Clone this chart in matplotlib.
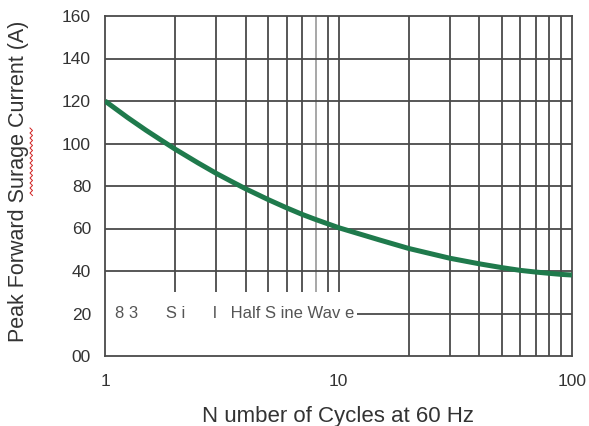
import numpy as np
import matplotlib
matplotlib.use("Agg")
import matplotlib.pyplot as plt
from matplotlib.lines import Line2D

# Curve values
cycles = [1, 1.25, 1.5, 1.75, 2, 2.5, 3, 3.5, 4, 5, 6, 7, 8, 9, 10,
          15, 20, 30, 40, 50, 60, 70, 80, 90, 100]
current = [120, 112.2, 106.2, 101.4, 97.3, 90.9, 85.9, 82.0, 78.7, 73.6, 69.7,
           66.6, 64.2, 62.2, 60.4, 54.6, 50.6, 46.0, 43.4, 41.6, 40.3, 39.5,
           38.9, 38.4, 38.1]

y_ticks = [0, 20, 40, 60, 80, 100, 120, 140, 160]
y_tick_labels = ["00", "20", "40", "60", "80", "100", "120", "140", "160"]
x_ticks = [1, 10, 100]
x_tick_labels = ["1", "10", "100"]
grid_decade1 = [2, 3, 4, 5, 6, 7, 9, 10]
grid_faint = [8]
grid_decade2 = [20, 30, 40, 50, 60, 70, 80, 90]
grid_rows = [40, 60, 80, 100, 120, 140]

GRID = "#4a4a4a"
GREEN = "#1f7a4c"
plt.rcParams["font.family"] = ["Liberation Sans", "DejaVu Sans"]

fig = plt.figure(figsize=(5.89, 4.26), dpi=100)
ax = fig.add_axes([105 / 589, 1 - 356 / 426, 467 / 589, 340 / 426])
ax.set_xscale("log")
ax.set_xlim(1, 100)
ax.set_ylim(0, 160)

# grid, the lower-left corner is kept clear for the note
ax.vlines(grid_decade1, 30, 160, color=GRID, lw=1.3, zorder=1)
ax.vlines(grid_faint, 30, 160, color="#a0a0a0", lw=1.3, zorder=1)
ax.vlines(grid_decade2, 0, 160, color=GRID, lw=1.3, zorder=1)
ax.hlines(grid_rows, 1, 100, color=GRID, lw=1.3, zorder=1)
ax.hlines(20, 12, 100, color=GRID, lw=1.3, zorder=1)

ax.text(1.1, 20, "8 3      S i      l   Half S ine Wav e", fontsize=12,
        color="#555555", va="center", ha="left", zorder=2)

ax.plot(cycles, current, color=GREEN, lw=3.6, solid_capstyle="butt",
        solid_joinstyle="round", zorder=3)

for s in ax.spines.values():
    s.set_color(GRID)
    s.set_linewidth(1.3)

ax.set_yticks(y_ticks)
ax.set_yticklabels(y_tick_labels)
ax.set_xticks(x_ticks)
ax.set_xticklabels(x_tick_labels)
ax.xaxis.set_minor_locator(matplotlib.ticker.NullLocator())
ax.tick_params(axis="both", length=0, labelsize=12.5, colors="#333333")
ax.tick_params(axis="y", pad=10)
ax.tick_params(axis="x", pad=13)

ax.set_xlabel("N umber of Cycles at 60 Hz", fontsize=16, color="#333333", labelpad=12)
fig.text(19 / 589, 1 - 181 / 426, "Peak Forward Surage Current (A)", rotation=90,
         fontsize=15.5, color="#333333", ha="center", va="center")

# red spell-check squiggle under "Surage"
zy = np.arange(128, 196, 2.5)
zx = np.where(np.arange(len(zy)) % 2 == 0, 30, 32.5)
fig.add_artist(Line2D(zx / 589, 1 - zy / 426, color="#d02020", lw=0.7))

fig.savefig("out.png", dpi=100)
